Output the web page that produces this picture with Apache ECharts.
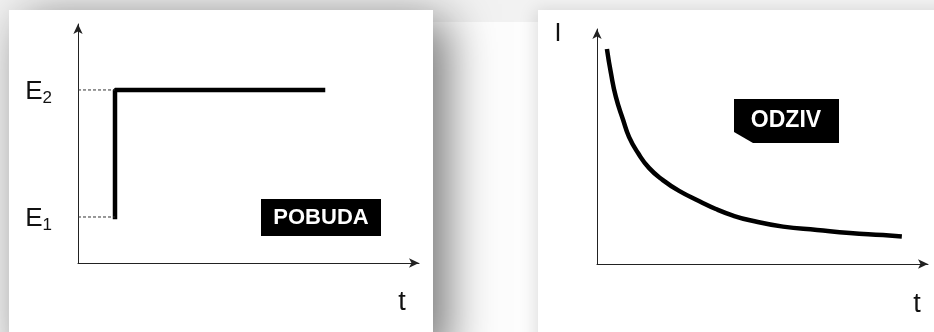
<!DOCTYPE html>
<html>
<head>
<meta charset="utf-8">
<script src="https://cdn.jsdelivr.net/npm/echarts@6/dist/echarts.min.js"></script>
<style>
  html, body { margin: 0; padding: 0; background: #f2f2f2; }
  #chart { width: 934px; height: 332px; }
</style>
</head>
<body>
<div id="chart"></div>
<script>
// pobuda: skok s E1 na E2
var levelE = [19.25, 72.4];
var levelNames = ['1', '2'];
var stepT = [10.85, 10.85, 71.85];
var stepE = [levelE[0], levelE[1], levelE[1]];
// odziv: struja pada s vremenom
var respT = [3.0, 4.2, 5.7, 7.9, 9.7, 12.4, 15.7, 19.9, 24.8, 31.1, 35.9, 41.1, 46.2, 56.2, 66.5, 76.4, 86.4, 92.1];
var respI = [91.5, 81.3, 71.1, 61.3, 54.0, 47.2, 40.9, 35.7, 31.1, 26.6, 23.4, 20.6, 18.6, 15.9, 14.5, 13.2, 12.3, 11.7];

var font = 'Liberation Sans, Arial, sans-serif';

function zip(a, b) {
  var res = [];
  for (var i = 0; i < a.length; i++) {
    res.push([a[i], b[i]]);
  }
  return res;
}

// os sa strelicom
function arrowLine() {
  return {
    show: true,
    symbol: ['none', 'arrow'],
    symbolSize: [7, 10],
    lineStyle: { color: '#222', width: 1 }
  };
}

function valueAxis(idx, extra) {
  var ax = {
    type: 'value',
    gridIndex: idx,
    min: 0,
    max: 100,
    axisLine: arrowLine(),
    axisTick: { show: false },
    splitLine: { show: false },
    axisLabel: { show: false }
  };
  for (var k in extra) ax[k] = extra[k];
  return ax;
}

var chart = echarts.init(document.getElementById('chart'));

var option = {
  animation: false,
  backgroundColor: '#f2f2f2',
  grid: [
    { left: 78, top: 24, width: 341, height: 239 },
    { left: 597, top: 29, width: 331, height: 235 }
  ],
  xAxis: [
    valueAxis(0, {}),
    valueAxis(1, {})
  ],
  yAxis: [
    valueAxis(0, {
      axisLabel: {
        show: true,
        customValues: levelE,
        margin: 26,
        formatter: function (v) {
          var i = levelE.indexOf(v);
          return '{e|E}{s|' + levelNames[i] + '}';
        },
        rich: {
          e: { fontFamily: font, fontSize: 26, color: '#111', padding: [4, 0, 0, 0] },
          s: { fontFamily: font, fontSize: 17, color: '#111', padding: [16, 0, 0, 0] }
        }
      }
    }),
    valueAxis(1, {})
  ],
  graphic: [
    // podloga izmedju panela
    { type: 'rect', z: -3, shape: { x: 433, y: 22, width: 105, height: 320 },
      style: { fill: '#fdfdfd' } },
    // desni panel
    { type: 'rect', z: -2, shape: { x: 538, y: 10, width: 420, height: 340 },
      style: { fill: '#fff', shadowBlur: 16, shadowColor: 'rgba(0,0,0,0.12)', shadowOffsetX: -3 } },
    // lijevi panel sa sjenom
    { type: 'rect', z: -1, shape: { x: 9, y: 10, width: 424, height: 340 },
      style: { fill: '#fff', shadowBlur: 45, shadowColor: 'rgba(0,0,0,0.55)', shadowOffsetX: 14, shadowOffsetY: 10 } },
    { type: 'rect', z: 10, shape: { x: 261, y: 199, width: 120, height: 37 },
      style: { fill: '#000' } },
    { type: 'text', z: 11, x: 321, y: 218,
      style: { text: 'POBUDA', fill: '#fff', font: 'bold 22px ' + font, align: 'center', verticalAlign: 'middle' } },
    { type: 'polygon', z: 10,
      shape: { points: [[734, 99], [839, 99], [839, 143], [753, 143], [734, 132]] },
      style: { fill: '#000' } },
    { type: 'text', z: 11, x: 786, y: 121,
      style: { text: 'ODZIV', fill: '#fff', font: 'bold 23px ' + font, align: 'center', verticalAlign: 'middle' } },
    { type: 'text', z: 11, x: 402, y: 303,
      style: { text: 't', fill: '#111', font: '27px ' + font, align: 'center', verticalAlign: 'middle' } },
    { type: 'text', z: 11, x: 917, y: 305,
      style: { text: 't', fill: '#111', font: '27px ' + font, align: 'center', verticalAlign: 'middle' } },
    { type: 'text', z: 11, x: 558, y: 34,
      style: { text: 'I', fill: '#111', font: '25px ' + font, align: 'center', verticalAlign: 'middle' } }
  ],
  series: [
    {
      type: 'line',
      xAxisIndex: 0, yAxisIndex: 0,
      data: zip(stepT, stepE),
      symbol: 'none',
      lineStyle: { color: '#000', width: 4.5, cap: 'square' }
    },
    {
      type: 'line',
      xAxisIndex: 0, yAxisIndex: 0,
      data: [[0, levelE[0]], [stepT[0], levelE[0]]],
      symbol: 'none',
      lineStyle: { color: '#333', width: 1, type: [3, 2] }
    },
    {
      type: 'line',
      xAxisIndex: 0, yAxisIndex: 0,
      data: [[0, levelE[1]], [stepT[0], levelE[1]]],
      symbol: 'none',
      lineStyle: { color: '#333', width: 1, type: [3, 2] }
    },
    {
      type: 'line',
      xAxisIndex: 1, yAxisIndex: 1,
      data: zip(respT, respI),
      smooth: 0.5,
      symbol: 'none',
      lineStyle: { color: '#000', width: 4.5 }
    }
  ]
};

chart.setOption(option);
</script>
</body>
</html>
